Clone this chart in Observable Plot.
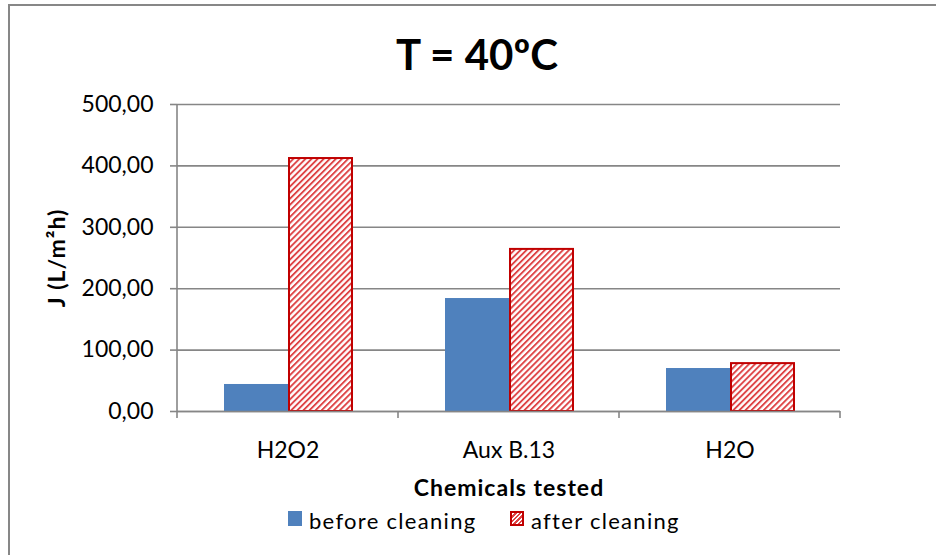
<!DOCTYPE html>
<html>
<head>
<meta charset="utf-8">
<script src="https://cdn.jsdelivr.net/npm/d3@7"></script>
<script src="https://cdn.jsdelivr.net/npm/@observablehq/plot@0.6"></script>
<style>
  html, body { margin: 0; padding: 0; background: #fff; }
  #page { position: relative; width: 936px; height: 555px; overflow: hidden; font-family: Lato, "Open Sans", sans-serif; color: #000; }
  #border { position: absolute; left: 8px; top: 4px; width: 960px; height: 600px; border: 2px solid #878787; box-sizing: border-box; }
  #title { position: absolute; left: 0; top: 33px; width: 936px; padding-left: 18px; box-sizing: border-box; text-align: center; font-weight: bold; font-size: 42px; line-height: 42px; }
  #chart { position: absolute; left: 0; top: 86px; }
  #legend { position: absolute; left: 0; top: 507px; width: 936px; height: 28px; font-size: 22px; line-height: 28px; letter-spacing: 1.3px; }
  .lg { position: absolute; top: 0; white-space: nowrap; }
  .sw { position: absolute; width: 14px; height: 15px; top: 4px; box-sizing: border-box; }
  g[aria-label="y-axis label"] { font-weight: bold; letter-spacing: 1px; }
  g[aria-label="fx-axis label"] { font-weight: bold; letter-spacing: 1px; }
</style>
</head>
<body>
<div id="page">
  <div id="border"></div>
  <div id="title">T = 40ºC</div>
  <div id="chart"></div>
  <div id="legend"></div>
</div>
<script>
// ---- data ----
const categories = ["H2O2", "Aux B.13", "H2O"];
const seriesNames = ["before cleaning", "after cleaning"];
const beforeValues = [44, 184, 70];
const afterValues = [412, 264, 78];
const yTicks = [0, 100, 200, 300, 400, 500];
const yLabel = "J (L/m²h)";
const xLabel = "Chemicals tested";

const rows = categories.flatMap((c, i) => [
  {category: c, series: seriesNames[0], value: beforeValues[i]},
  {category: c, series: seriesNames[1], value: afterValues[i]}
]);
const fmt = d => d.toFixed(2).replace(".", ",");
const gridColor = "#868686";

const plot = Plot.plot({
  width: 936,
  height: 414,
  marginLeft: 177,
  marginRight: 96,
  marginTop: 18,
  marginBottom: 89,
  style: {fontFamily: "Lato, 'Open Sans', sans-serif", fontSize: "23px", color: "#000", background: "transparent", overflow: "visible"},
  fx: {domain: categories, padding: 0},
  x: {domain: seriesNames, paddingInner: 0, paddingOuter: 0.72, axis: null},
  y: {domain: [0, 500]},
  marks: [
    Plot.gridY(yTicks, {stroke: gridColor, strokeOpacity: 1, strokeWidth: 1.6}),
    Plot.axisY(yTicks, {tickFormat: fmt, tickSize: 7, tickPadding: 17, stroke: gridColor, strokeWidth: 1.6, fontSize: 23, label: yLabel, labelAnchor: "center", labelArrow: "none", labelOffset: 129}),
    Plot.axisFx({anchor: "bottom", tickSize: 0, tickPadding: 30, fontSize: 23, label: xLabel, labelAnchor: "center", labelArrow: "none", labelOffset: 84}),
    Plot.barY(rows.filter(d => d.series === seriesNames[0]), {fx: "category", x: "series", y: "value", fill: "#4F81BD"}),
    Plot.barY(rows.filter(d => d.series === seriesNames[1]), {fx: "category", x: "series", y: "value", fill: "url(#hatch)", stroke: "#C00000", strokeWidth: 2, insetLeft: 1, insetRight: 0}),
    Plot.ruleY([0], {stroke: gridColor, strokeWidth: 1.6})
  ]
});

document.getElementById("chart").appendChild(plot);

// hatch pattern + category boundary ticks + left axis line, positioned with the plot's own scales
const svg = d3.select(plot);
const defs = svg.insert("defs", ":first-child");
const pat = defs.append("pattern").attr("id", "hatch").attr("patternUnits", "userSpaceOnUse")
  .attr("width", 4.3).attr("height", 4.3).attr("patternTransform", "rotate(45)");
pat.append("rect").attr("width", 4.3).attr("height", 4.3).attr("fill", "#fff");
pat.append("rect").attr("width", 1.9).attr("height", 4.3).attr("fill", "#DE4446");

const fxS = plot.scale("fx");
const band = d3.scaleBand(fxS.domain, fxS.range)
  .paddingInner(fxS.paddingInner ?? 0).paddingOuter(fxS.paddingOuter ?? 0).align(fxS.align ?? 0.5);
const yS = plot.scale("y");
const y = d3.scaleLinear(yS.domain, yS.range);
const edges = categories.map(c => band(c)).concat([band(categories[categories.length - 1]) + band.bandwidth()]);
const axisG = svg.append("g").attr("stroke", gridColor).attr("stroke-width", 1.6);
axisG.append("line").attr("x1", edges[0]).attr("x2", edges[0]).attr("y1", y(yTicks[yTicks.length - 1])).attr("y2", y(0) + 7);
edges.slice(1).forEach(e => axisG.append("line").attr("x1", e).attr("x2", e).attr("y1", y(0)).attr("y2", y(0) + 7));

// legend
const legend = document.getElementById("legend");
const items = [
  {name: seriesNames[0], x: 288, sw: "background:#4F81BD;"},
  {name: seriesNames[1], x: 510, sw: "border:2px solid #C00000;background:repeating-linear-gradient(-45deg,#fff 0 1.6px,#DE4446 1.6px 3.2px);"}
];
items.forEach(it => {
  const d = document.createElement("div");
  d.className = "lg";
  d.style.left = it.x + "px";
  d.innerHTML = `<span class="sw" style="left:0;${it.sw}"></span><span style="position:absolute;left:21px;top:0">${it.name}</span>`;
  legend.appendChild(d);
});
</script>
</body>
</html>
